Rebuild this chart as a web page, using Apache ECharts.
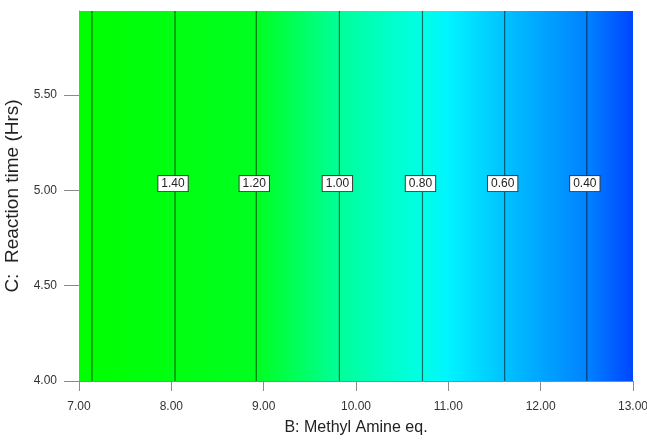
<!DOCTYPE html>
<html>
<head>
<meta charset="utf-8">
<title>Contour: Methyl Amine eq. vs Reaction time</title>
<script src="https://cdn.jsdelivr.net/npm/echarts@6/dist/echarts.min.js"></script>
<style>
  html, body { margin: 0; padding: 0; background: #fff; }
  #chart { width: 647px; height: 440px; }
</style>
</head>
<body>
<div id="chart"></div>
<script>
// Factor ranges
const xRange = [7, 13];          // B: Methyl Amine eq.
const yRange = [4, 5.94];        // C: Reaction time (Hrs)
const xTicks = [7, 8, 9, 10, 11, 12, 13];
const yTicks = [4, 4.5, 5, 5.5];

// Contour lines of the response (vertical: response depends on B only)
const contourX = [7.14, 8.04, 8.92, 9.82, 10.72, 11.61, 12.50];
const contourLabels = ['', '1.40', '1.20', '1.00', '0.80', '0.60', '0.40'];
const labelY = 5.035;

// Colour ramp of the response surface along B
const rampX = [7, 8.92, 9.82, 10.72, 11.0, 11.61, 12.50, 13];
const rampColors = ['#00ff00', '#00ff20', '#00ff9a', '#00ffe6', '#00f4ff', '#00c2ff', '#0082ff', '#0046ff'];

const chart = echarts.init(document.getElementById('chart'), null, { renderer: 'canvas' });

const fontFamily = '"Liberation Sans", Arial, sans-serif';

const option = {
  backgroundColor: '#ffffff',
  animation: false,
  grid: { left: 79, right: 14, top: 11, bottom: 59, outerBoundsMode: 'none', containLabel: false },
  xAxis: {
    type: 'value',
    min: xRange[0], max: xRange[1], interval: 1,
    name: 'B: Methyl Amine eq.',
    nameLocation: 'middle',
    nameGap: 39,
    nameTextStyle: { fontFamily, fontSize: 16, color: '#222' },
    axisLine: { show: true, lineStyle: { color: '#8a8a8a', width: 1 } },
    axisTick: { show: true, length: 10, lineStyle: { color: '#8a8a8a' }, customValues: xTicks },
    axisLabel: { fontFamily, fontSize: 12, color: '#333', margin: 20,
      formatter: v => v.toFixed(2), customValues: xTicks },
    splitLine: { show: false }
  },
  yAxis: {
    type: 'value',
    min: yRange[0], max: yRange[1],
    name: 'C:  Reaction time (Hrs)',
    nameLocation: 'middle',
    nameGap: 51,
    nameRotate: 90,
    nameTextStyle: { fontFamily, fontSize: 19, color: '#222' },
    axisLine: { show: true, lineStyle: { color: '#8a8a8a', width: 1 } },
    axisTick: { show: true, length: 15, lineStyle: { color: '#8a8a8a' }, customValues: yTicks },
    axisLabel: { fontFamily, fontSize: 12, color: '#333', margin: 22,
      formatter: v => v.toFixed(2), customValues: yTicks },
    splitLine: { show: false }
  },
  series: [
    {
      // response surface colour fill
      type: 'custom',
      silent: true,
      clip: true,
      z: 1,
      data: [[xRange[0], yRange[1], xRange[1], yRange[0]]],
      renderItem: function (params, api) {
        const p0 = api.coord([api.value(0), api.value(1)]);
        const p1 = api.coord([api.value(2), api.value(3)]);
        const span = xRange[1] - xRange[0];
        const stops = rampX.map((x, i) => ({ offset: (x - xRange[0]) / span, color: rampColors[i] }));
        return {
          type: 'rect',
          shape: { x: p0[0], y: p0[1], width: p1[0] - p0[0], height: p1[1] - p0[1] },
          style: { fill: new echarts.graphic.LinearGradient(0, 0, 1, 0, stops) }
        };
      }
    },
    {
      // contour lines with value labels
      type: 'custom',
      silent: true,
      clip: true,
      z: 2,
      data: contourX.map((x, i) => [x, i]),
      renderItem: function (params, api) {
        const x = api.value(0);
        const idx = api.value(1);
        const top = api.coord([x, yRange[1]]);
        const bottom = api.coord([x, yRange[0]]);
        const children = [{
          type: 'line',
          shape: { x1: top[0], y1: top[1], x2: bottom[0], y2: bottom[1] },
          style: { stroke: 'rgba(0,0,0,0.55)', lineWidth: 1.2 }
        }];
        const label = contourLabels[idx];
        if (label) {
          const lp = api.coord([x, labelY]);
          children.push({
            type: 'text',
            x: lp[0] - 2,
            y: lp[1],
            style: {
              text: label,
              fontFamily,
              fontSize: 12,
              fill: '#222',
              align: 'center',
              verticalAlign: 'middle',
              backgroundColor: '#ffffff',
              borderColor: '#3a3a3a',
              borderWidth: 1,
              padding: [2, 3, 1, 3]
            }
          });
        }
        return { type: 'group', children };
      }
    }
  ]
};

chart.setOption(option);
</script>
</body>
</html>
